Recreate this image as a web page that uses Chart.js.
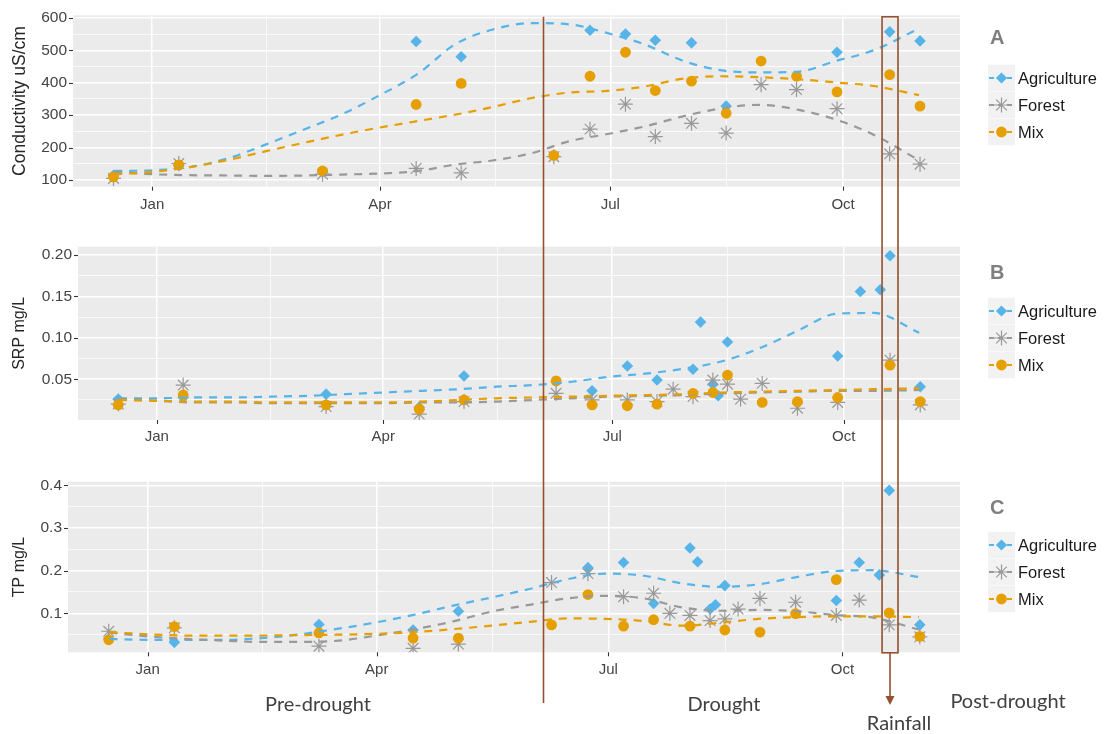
<!DOCTYPE html>
<html><head><meta charset="utf-8">
<script src="https://cdn.jsdelivr.net/npm/chart.js@4.4.0/dist/chart.umd.min.js"></script>
<style>
body{margin:0;background:#fff;width:1105px;height:734px;overflow:hidden;position:relative;font-family:"Liberation Sans",Arial,sans-serif;}
.panel{position:absolute;left:0;}
#overlay{position:absolute;left:0;top:0;pointer-events:none;}
.lbl{position:absolute;font-family:Lato,"Open Sans",sans-serif;font-size:20px;color:#404040;transform:translate(-50%,-50%);white-space:nowrap;}
.letter{position:absolute;font:bold 20px "Liberation Sans",Arial,sans-serif;color:#7f7f7f;transform:translateY(-50%);}
.legrow{position:absolute;left:988px;height:27px;display:flex;align-items:center;transform:translateY(-50%);}
.legrow svg{display:block;}
.legrow span{margin-left:3px;font-size:16.5px;color:#1a1a1a;}
</style>
</head><body>
<div class="panel" style="top:0px"><canvas id="cA" width="1105" height="225"></canvas></div>
<div class="panel" style="top:228px"><canvas id="cB" width="1105" height="222"></canvas></div>
<div class="panel" style="top:460px"><canvas id="cC" width="1105" height="225"></canvas></div>
<canvas id="overlay" width="1105" height="734"></canvas>
<div id="texts"></div>
<script>
// ---------- DATA ----------
const seriesNames = ['Agriculture', 'Forest', 'Mix'];
// sampling dates, days since Jan 1 (negative = previous December)
const sampleDays = [-15.3, 10.5, 67.3, 104.3, 122.1, 158.7, 173.0, 187.0, 198.8, 205.2, 213.1, 216.1, 221.0, 223.1, 226.8, 232.0, 240.6, 254.6, 270.6, 279.6, 287.5, 291.4, 303.4];

const condAgri   = [115, 145, 125, 527, 480, null, 562, 550, 531, null, 523, null, null, null, 328, null, null, null, 494, null, null, 557, 529];
const condForest = [105, 151, 118, 136, 122, 172, 257, 334, 234, null, 275, null, null, null, 245, null, 394, 379, 320, null, null, 181, 149];
const condMix    = [110, 147, 128, 333, 398, 176, 420, 494, 376, null, 405, null, null, null, 306, null, 467, 420, 372, null, null, 425, 328];

const srpAgri   = [0.026, 0.028, 0.032, 0.016, 0.054, null, 0.036, 0.066, 0.049, null, 0.062, 0.119, 0.044, 0.030, 0.095, null, null, null, 0.078, 0.156, 0.158, 0.199, 0.041];
const srpForest = [0.020, 0.043, 0.017, 0.008, 0.023, 0.033, 0.025, 0.025, 0.023, 0.038, 0.029, null, 0.049, null, 0.044, 0.026, 0.045, 0.015, 0.022, null, null, 0.073, 0.019];
const srpMix    = [0.019, 0.031, 0.019, 0.014, 0.025, 0.048, 0.019, 0.018, 0.020, null, 0.033, null, 0.034, null, 0.055, null, 0.022, 0.023, 0.028, null, null, 0.067, 0.023];

const tpAgri   = [0.040, 0.032, 0.074, 0.061, 0.105, null, 0.207, 0.219, 0.123, null, 0.253, 0.221, 0.110, 0.120, 0.165, null, null, null, 0.130, 0.219, 0.190, 0.388, 0.073];
const tpForest = [0.058, 0.066, 0.023, 0.018, 0.028, 0.172, 0.193, 0.139, 0.147, 0.100, 0.095, null, 0.083, null, 0.087, 0.110, 0.135, 0.126, 0.095, 0.131, null, 0.073, 0.045];
const tpMix    = [0.038, 0.069, 0.054, 0.042, 0.042, 0.073, 0.144, 0.070, 0.085, null, 0.070, null, null, null, 0.061, null, 0.056, 0.099, 0.179, null, null, 0.101, 0.046];

// smoothed (loess) curves
const smoothDays = [-15, 0, 15, 30, 45, 60, 75, 90, 105, 120, 135, 150, 165, 180, 195, 210, 225, 240, 255, 270, 285, 303];
const condAgriFit   = [128, 130, 140, 167, 210, 256, 303, 362, 428, 520, 565, 584, 580, 553, 517, 467, 438, 432, 434, 467, 500, 567];
const condForestFit = [125, 118, 115, 114, 113, 114, 117, 120, 128, 148, 161, 183, 220, 242, 266, 297, 321, 332, 317, 287, 240, 161];
const condMixFit    = [118, 125, 140, 162, 189, 215, 240, 262, 282, 302, 326, 353, 370, 375, 389, 413, 420, 417, 411, 401, 390, 362];
const srpAgriFit   = [0.027, 0.027, 0.028, 0.028, 0.029, 0.030, 0.032, 0.034, 0.036, 0.038, 0.041, 0.043, 0.047, 0.053, 0.057, 0.063, 0.072, 0.088, 0.109, 0.129, 0.130, 0.106];
const srpForestFit = [0.026, 0.024, 0.022, 0.022, 0.021, 0.021, 0.021, 0.021, 0.022, 0.022, 0.023, 0.025, 0.027, 0.029, 0.030, 0.031, 0.033, 0.034, 0.035, 0.036, 0.036, 0.037];
const srpMixFit    = [0.025, 0.024, 0.023, 0.023, 0.022, 0.022, 0.022, 0.022, 0.023, 0.025, 0.027, 0.028, 0.029, 0.030, 0.031, 0.032, 0.034, 0.035, 0.036, 0.037, 0.038, 0.039];
const tpAgriFit   = [0.040, 0.038, 0.038, 0.038, 0.042, 0.051, 0.064, 0.079, 0.097, 0.118, 0.137, 0.157, 0.180, 0.193, 0.188, 0.170, 0.162, 0.168, 0.185, 0.199, 0.201, 0.185];
const tpForestFit = [0.055, 0.046, 0.040, 0.036, 0.033, 0.033, 0.036, 0.048, 0.063, 0.081, 0.104, 0.120, 0.135, 0.141, 0.135, 0.114, 0.106, 0.108, 0.105, 0.096, 0.090, 0.062];
const tpMixFit    = [0.056, 0.051, 0.048, 0.048, 0.048, 0.049, 0.050, 0.052, 0.056, 0.063, 0.071, 0.080, 0.088, 0.087, 0.082, 0.071, 0.078, 0.087, 0.091, 0.093, 0.093, 0.091];

// axis ticks
const monthTickDays = [0, 90, 181, 273];
const monthLabels = ['Jan', 'Apr', 'Jul', 'Oct'];
const monthMinorDays = [45, 135.5, 227];
const xRange = [-31.3, 319.2];
const condTicks = [100, 200, 300, 400, 500, 600];
const condMinor = [150, 250, 350, 450, 550];
const srpTicks = [0.05, 0.10, 0.15, 0.20];
const srpMinor = [0.025, 0.075, 0.125, 0.175];
const tpTicks = [0.1, 0.2, 0.3, 0.4];
const tpMinor = [0.05, 0.15, 0.25, 0.35];

// annotations (days)
const droughtStartDay = 154.3;
const rainfallStartDay = 288.4;
const rainfallEndDay = 294.7;
const periodLabels = ['Pre-drought', 'Drought', 'Post-drought'];
const rainfallLabel = 'Rainfall';

// ---------- STYLE ----------
const COL = {Agriculture: '#56B4E9', Forest: '#999999', Mix: '#E69F00'};

function pts(vals){ return sampleDays.map((d,i)=>({x:d,y:vals[i]})).filter(p=>p.y!==null); }
function fit(vals){ return smoothDays.map((d,i)=>({x:d,y:vals[i]})); }

const bgPlugin = {
  id:'bg',
  beforeDraw(chart){
    const {ctx, chartArea:a} = chart;
    ctx.save(); ctx.fillStyle='#EBEBEB'; ctx.fillRect(a.left,a.top,a.right-a.left,a.bottom-a.top); ctx.restore();
  },
  afterDraw(chart){
    const {ctx, chartArea:a} = chart;
    ctx.save(); ctx.strokeStyle='#333'; ctx.lineWidth=1.1;
    chart.scales.y.ticks.forEach(t=>{ if(!t.major) return; const y=Math.round(chart.scales.y.getPixelForValue(t.value))+0.5; ctx.beginPath(); ctx.moveTo(a.left-4,y); ctx.lineTo(a.left,y); ctx.stroke(); });
    chart.scales.x.ticks.forEach(t=>{ if(!t.major) return; const x=Math.round(chart.scales.x.getPixelForValue(t.value))+0.5; ctx.beginPath(); ctx.moveTo(x,a.bottom); ctx.lineTo(x,a.bottom+4); ctx.stroke(); });
    ctx.restore();
  }
};

function makeChart(id, cfg){
  const datasets = [];
  const fits = cfg.fits, vals = cfg.vals;
  // smooth lines on top
  ['Mix','Forest','Agriculture'].forEach((n,k)=>{
    datasets.push({label:n+' fit', data:fit(fits[n]), showLine:true, pointRadius:0, borderColor:COL[n], borderWidth:2.2, borderDash:[8,7], cubicInterpolationMode:'monotone', fill:false, order:k});
  });
  datasets.push({label:'Mix', data:pts(vals.Mix), pointStyle:'circle', pointRadius:5.4, backgroundColor:COL.Mix, borderWidth:0, order:3});
  datasets.push({label:'Forest', data:pts(vals.Forest), pointStyle:'star', pointRadius:7.5, borderColor:COL.Forest, backgroundColor:COL.Forest, borderWidth:1.2, order:4});
  datasets.push({label:'Agriculture', data:pts(vals.Agriculture), pointStyle:'rectRot', pointRadius:5.8, backgroundColor:COL.Agriculture, borderWidth:0, order:5});
  const majorY = cfg.yTicks, minorY = cfg.yMinor;
  return new Chart(document.getElementById(id), {
    type:'scatter',
    data:{datasets},
    plugins:[bgPlugin],
    options:{
      responsive:false, animation:false, devicePixelRatio:1,
      layout:{padding:{left:0,right:145,top:cfg.padTop,bottom:0}},
      plugins:{legend:{display:false}, tooltip:{enabled:false}},
      scales:{
        x:{type:'linear', min:xRange[0], max:xRange[1],
          afterBuildTicks(s){ s.ticks = monthTickDays.map(v=>({value:v,major:true})).concat(monthMinorDays.map(v=>({value:v,major:false}))); },
          afterFit(s){ s.height = cfg.xHeight; },
          border:{display:false},
          grid:{color:'#FFFFFF', lineWidth:c=> (c.tick && c.tick.major) ? 1.5 : 0.75, drawTicks:false},
          ticks:{autoSkip:false, maxRotation:0, padding:cfg.xPad, color:'#444444', font:{family:'"Liberation Sans", Arial', size:15},
            callback:(v,i,t)=>{ const j=monthTickDays.indexOf(v); return j>=0? monthLabels[j] : ''; }}
        },
        y:{type:'linear', min:cfg.yRange[0], max:cfg.yRange[1],
          afterBuildTicks(s){ s.ticks = majorY.map(v=>({value:v,major:true})).concat(minorY.map(v=>({value:v,major:false}))); },
          afterFit(s){ s.width = cfg.yWidth; },
          border:{display:false},
          grid:{color:'#FFFFFF', lineWidth:c=> (c.tick && c.tick.major) ? 1.5 : 0.75, drawTicks:false},
          title:{display:true, text:cfg.yTitle, color:'#262626', font:{family:'"Liberation Sans", Arial', size:cfg.titleSize}, padding:{top:cfg.titlePad, bottom:0}},
          ticks:{autoSkip:false, padding:6, color:'#444444', font:{family:'"Liberation Sans", Arial', size:15.5},
            callback:(v)=>{ const j=majorY.indexOf(v); return j>=0? v.toFixed(cfg.dec) : ''; }}
        }
      }
    }
  });
}

const chartA = makeChart('cA', {fits:{Agriculture:condAgriFit, Forest:condForestFit, Mix:condMixFit}, vals:{Agriculture:condAgri, Forest:condForest, Mix:condMix},
  yTicks:condTicks, yMinor:condMinor, yRange:[79.5,608], dec:0, yTitle:'Conductivity uS/cm', titleSize:17.5, titlePad:9.5,
  padTop:14, xHeight:225-186.7, xPad:9, yWidth:73});
const chartB = makeChart('cB', {fits:{Agriculture:srpAgriFit, Forest:srpForestFit, Mix:srpMixFit}, vals:{Agriculture:srpAgri, Forest:srpForest, Mix:srpMix},
  yTicks:srpTicks, yMinor:srpMinor, yRange:[0.0008,0.210], dec:2, yTitle:'SRP mg/L', titleSize:16, titlePad:10,
  padTop:246.7-228, xHeight:450-420, xPad:8, yWidth:78});
const chartC = makeChart('cC', {fits:{Agriculture:tpAgriFit, Forest:tpForestFit, Mix:tpMixFit}, vals:{Agriculture:tpAgri, Forest:tpForest, Mix:tpMix},
  yTicks:tpTicks, yMinor:tpMinor, yRange:[0.0087,0.4084], dec:1, yTitle:'TP mg/L', titleSize:16, titlePad:10,
  padTop:481.7-460, xHeight:685-652.3, xPad:8.5, yWidth:68});

// ---------- OVERLAY (drought line, rainfall box, arrow) ----------
(function(){
  const ctx = document.getElementById('overlay').getContext('2d');
  const sx = chartA.scales.x;
  const brown = '#94502F';
  const top = chartA.chartArea.top + 1.5;
  const xl = Math.round(sx.getPixelForValue(droughtStartDay))+0.5;
  ctx.strokeStyle = brown; ctx.lineWidth = 1.6;
  ctx.beginPath(); ctx.moveTo(xl, top); ctx.lineTo(xl, 703); ctx.stroke();
  const x1 = sx.getPixelForValue(rainfallStartDay), x2 = sx.getPixelForValue(rainfallEndDay);
  const boxBottom = chartC.chartArea.bottom + 460 + 0.5;
  ctx.strokeRect(x1, top, x2-x1, boxBottom-top);
  const xm = (x1+x2)/2;
  ctx.beginPath(); ctx.moveTo(xm, boxBottom); ctx.lineTo(xm, 697); ctx.stroke();
  ctx.fillStyle = brown;
  ctx.beginPath(); ctx.moveTo(xm-4.5, 696); ctx.lineTo(xm+4.5, 696); ctx.lineTo(xm, 705); ctx.closePath(); ctx.fill();
})();

// ---------- TEXT: period labels, legends ----------
(function(){
  const t = document.getElementById('texts');
  const add = (html)=>{ t.insertAdjacentHTML('beforeend', html); };
  add(`<div class="lbl" style="left:318px;top:703px">${periodLabels[0]}</div>`);
  add(`<div class="lbl" style="left:724px;top:703px">${periodLabels[1]}</div>`);
  add(`<div class="lbl" style="left:1008px;top:700px">${periodLabels[2]}</div>`);
  add(`<div class="lbl" style="left:899px;top:722px">${rainfallLabel}</div>`);
  const panels = [{letter:'A', y:37, rows:[78,105,132]}, {letter:'B', y:272, rows:[311,338,365]}, {letter:'C', y:507, rows:[545,572,599]}];
  const star = (cx,cy,r,c)=>{ let s=''; for(let k=0;k<4;k++){ const a=k*Math.PI/4; const dx=r*Math.cos(a), dy=r*Math.sin(a); s+=`<line x1="${cx-dx}" y1="${cy-dy}" x2="${cx+dx}" y2="${cy+dy}" stroke="${c}" stroke-width="1.2"/>`; } return s; };
  const key = (n)=>{
    const c = COL[n];
    let m = '';
    if(n==='Agriculture') m = `<polygon points="13.5,8 19.1,13.5 13.5,19 7.9,13.5" fill="${c}"/>`;
    if(n==='Forest') m = star(13.5,13.5,7.5,c);
    if(n==='Mix') m = `<circle cx="13.5" cy="13.5" r="5.4" fill="${c}"/>`;
    return `<svg width="27" height="27"><rect x="0" y="0" width="27" height="27" fill="#F2F2F2"/><line x1="1" y1="13.5" x2="26" y2="13.5" stroke="${c}" stroke-width="2" stroke-dasharray="5,4"/>${m}</svg>`;
  };
  panels.forEach(p=>{
    add(`<div class="letter" style="left:990px;top:${p.y}px">${p.letter}</div>`);
    seriesNames.forEach((n,i)=>{
      add(`<div class="legrow" style="top:${p.rows[i]}px">${key(n)}<span>${n}</span></div>`);
    });
  });
})();
</script>
</body></html>
